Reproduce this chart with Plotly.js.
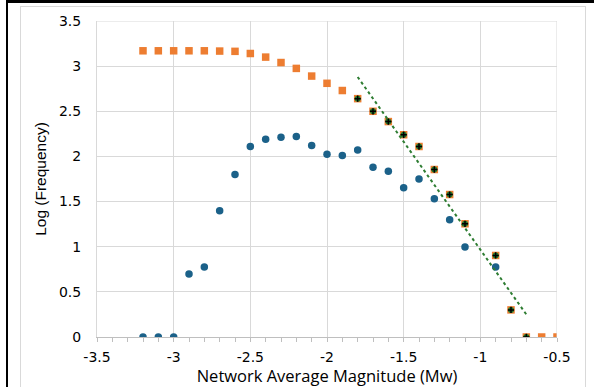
<!DOCTYPE html>
<html><head><meta charset="utf-8">
<script src="https://cdn.plot.ly/plotly-3.0.1.min.js"></script>
<style>
html,body{margin:0;padding:0;background:#fff;}
#wrap{position:relative;width:594px;height:387px;overflow:hidden;}
#chart{position:absolute;left:0;top:0;width:594px;height:387px;}
#outer{position:absolute;left:6px;top:0;width:600px;height:400px;border-left:2px solid #000;border-top:3px solid #000;box-sizing:border-box;pointer-events:none;}
#inner{position:absolute;left:20px;top:6px;width:566px;height:400px;border:1px solid #d9d9d9;box-sizing:border-box;pointer-events:none;}
</style></head>
<body><div id="wrap"><div id="chart"></div><div id="outer"></div><div id="inner"></div></div>
<script>
// Cumulative (orange squares)
const cumX = [-3.2,-3.1,-3.0,-2.9,-2.8,-2.7,-2.6,-2.5,-2.4,-2.3,-2.2,-2.1,-2.0,-1.9,-1.8,-1.7,-1.6,-1.5,-1.4,-1.3,-1.2,-1.1,-0.9,-0.8,-0.7,-0.6,-0.5];
const cumY = [3.17,3.17,3.17,3.17,3.17,3.167,3.164,3.14,3.10,3.04,2.975,2.89,2.81,2.73,2.64,2.50,2.386,2.24,2.11,1.855,1.578,1.254,0.903,0.30,0,0,0];
// Incremental (blue circles)
const incX = [-3.2,-3.1,-3.0,-2.9,-2.8,-2.7,-2.6,-2.5,-2.4,-2.3,-2.2,-2.1,-2.0,-1.9,-1.8,-1.7,-1.6,-1.5,-1.4,-1.3,-1.2,-1.1,-0.9];
const incY = [0,0,0,0.697,0.774,1.397,1.80,2.109,2.19,2.212,2.22,2.12,2.024,2.01,2.07,1.88,1.836,1.652,1.751,1.532,1.30,0.996,0.774];
// Points used for fit
const fitX = [-1.8,-1.7,-1.6,-1.5,-1.4,-1.3,-1.2,-1.1,-0.9,-0.8,-0.7];
const fitY = [2.64,2.50,2.386,2.24,2.11,1.855,1.578,1.254,0.903,0.30,0];
// Trendline endpoints
const trendX = [-1.8,-0.7];
const trendY = [2.88,0.25];
const xTicks = [-3.5,-3,-2.5,-2,-1.5,-1,-0.5];
const yTicks = [0,0.5,1,1.5,2,2.5,3,3.5];

const traces = [
 {x:cumX,y:cumY,mode:'markers',type:'scatter',marker:{symbol:'square',size:7.5,color:'#ED7D31'},hoverinfo:'none'},
 {x:incX,y:incY,mode:'markers',type:'scatter',marker:{symbol:'circle',size:7.5,color:'#1B6189'},hoverinfo:'none'},
 {x:trendX,y:trendY,mode:'lines',type:'scatter',line:{color:'#2E7D32',width:2,dash:'dot'},hoverinfo:'none'},
 {x:fitX,y:fitY,mode:'markers',type:'scatter',marker:{symbol:'circle',size:6,color:'#1E7A2E',line:{width:0}},hoverinfo:'none'},
 {x:fitX,y:fitY,mode:'markers',type:'scatter',marker:{symbol:'cross-thin',size:4.5,color:'#000',line:{color:'#000',width:1.5}},hoverinfo:'none'}
];
const tickFont = '"DejaVu Sans", sans-serif';
const layout = {
 width:594,height:387,showlegend:false,
 paper_bgcolor:'rgba(0,0,0,0)',plot_bgcolor:'#fff',
 margin:{l:97,r:37,t:21,b:50},
 font:{family:tickFont,color:'#000',size:13},
 xaxis:{range:[-3.5,-0.5],tickvals:xTicks,ticktext:xTicks.map(String),showgrid:true,gridcolor:'#d9d9d9',gridwidth:1,
   zeroline:false,showline:true,linecolor:'#bfbfbf',linewidth:1,mirror:false,
   ticks:'outside',ticklen:4,tickcolor:'#bfbfbf',ticklabelstandoff:3,
   minor:{dtick:0.1,ticks:'outside',ticklen:4,tickcolor:'#bfbfbf',showgrid:false},
   tickfont:{size:14,family:tickFont,color:'#000'},
   title:{text:'Network Average Magnitude (Mw)',font:{size:16.5,family:'"Open Sans", sans-serif',color:'#000'},standoff:3}},
 yaxis:{range:[0,3.5],tickvals:yTicks,ticktext:yTicks.map(String),showgrid:true,gridcolor:'#d9d9d9',gridwidth:1,
   zeroline:false,showline:true,linecolor:'#d9d9d9',ticks:'',ticklabelstandoff:12,
   tickfont:{size:14,family:tickFont,color:'#000'},
   title:{text:'Log (Frequency)',font:{size:15.5,family:'"Liberation Sans", Arial, sans-serif',color:'#000'},standoff:8}},
 shapes:[{type:'line',xref:'x',yref:'paper',x0:-0.5,x1:-0.5,y0:0,y1:1,line:{color:'#d9d9d9',width:1}},
         {type:'line',xref:'paper',yref:'y',x0:0,x1:1,y0:3.5,y1:3.5,line:{color:'#d9d9d9',width:1}}]
};
Plotly.newPlot('chart',traces,layout,{staticPlot:true,displayModeBar:false});
</script></body></html>
